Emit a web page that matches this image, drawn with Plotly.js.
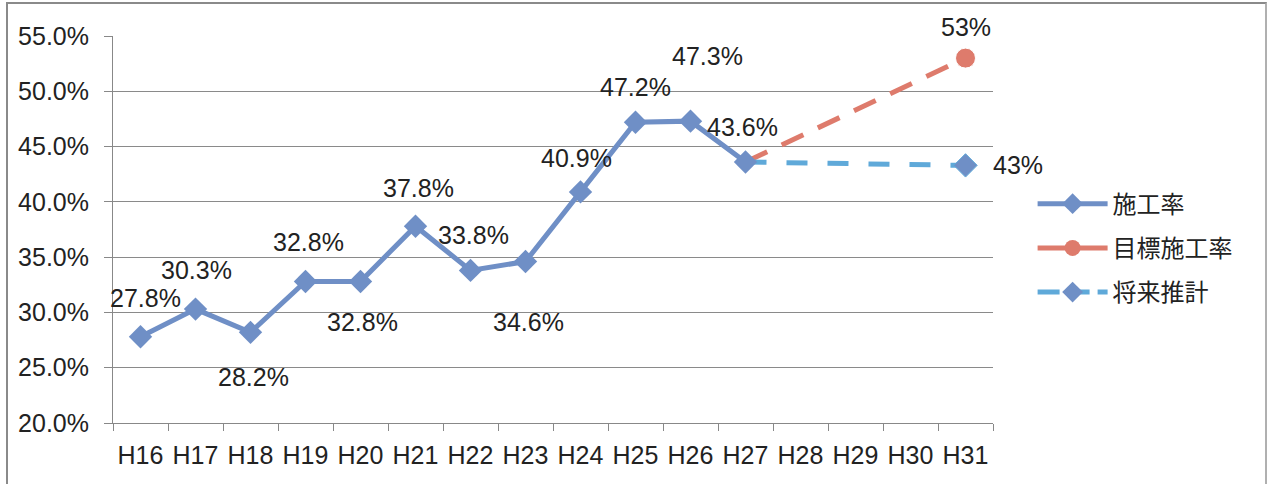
<!DOCTYPE html>
<html>
<head>
<meta charset="utf-8">
<script src="https://cdn.plot.ly/plotly-3.0.1.min.js"></script>
<style>
html,body{margin:0;padding:0;background:#fff;}
#wrap{position:relative;width:1269px;height:484px;}
#frame{position:absolute;left:6px;top:2px;width:1257px;height:490px;border-left:2px solid #8a8a8a;border-top:2px solid #8a8a8a;border-right:2px solid #b0b0b0;pointer-events:none;}
#chart{position:absolute;left:0;top:0;width:1269px;height:484px;}
</style>
</head>
<body>
<div id="wrap"><div id="chart"></div><div id="frame"></div></div>
<script>
// ---- data ----
const years = ['H16','H17','H18','H19','H20','H21','H22','H23','H24','H25','H26','H27','H28','H29','H30','H31'];
const actualYears = ['H16','H17','H18','H19','H20','H21','H22','H23','H24','H25','H26','H27'];
const actualRate = [27.8, 30.3, 28.2, 32.8, 32.8, 37.8, 33.8, 34.6, 40.9, 47.2, 47.3, 43.6];
const targetYears = ['H27','H31'];
const targetRate = [43.6, 53.0];
const forecastYears = ['H27','H31'];
const forecastRate = [43.6, 43.3];
const actualLabels = ['27.8%','30.3%','28.2%','32.8%','32.8%','37.8%','33.8%','34.6%','40.9%','47.2%','47.3%','43.6%'];
const targetLabel = '53%';
const forecastLabel = '43%';
const yTickVals = [20, 25, 30, 35, 40, 45, 50, 55];
const yTickText = ['20.0%','25.0%','30.0%','35.0%','40.0%','45.0%','50.0%','55.0%'];
const seriesNames = ['施工率','目標施工率','将来推計'];

// ---- styles ----
const blue = '#6f8fc6';
const red = '#de7b6c';
const lightBlue = '#5fa9d9';
const labelFont = {family: 'Liberation Sans, Arial, sans-serif', size: 25, color: '#222'};
// label offsets [xshift, yshift] in px
const actualOffsets = [[5,39],[1,39],[3,-45],[3,39],[2,-41],[3,38],[3,35],[3,-60],[-4,34],[0,35],[17,65],[-3,35]];

const traces = [
  // plotted series (legend entries drawn by the legend-only traces below)
  {
    type: 'scatter', mode: 'lines+markers', name: seriesNames[1], showlegend: false,
    x: targetYears, y: targetRate,
    line: {color: red, width: 5, dash: '24px,16px'},
    marker: {symbol: 'circle', size: [0, 20], color: red, opacity: 1},
    hoverinfo: 'skip'
  },
  {
    type: 'scatter', mode: 'lines+markers', name: seriesNames[2], showlegend: false,
    x: forecastYears, y: forecastRate,
    line: {color: lightBlue, width: 5, dash: '21px,20px'},
    marker: {symbol: 'diamond', size: [0, 18], color: blue, opacity: 1},
    hoverinfo: 'skip'
  },
  {
    type: 'scatter', mode: 'lines+markers', name: seriesNames[0], showlegend: false,
    x: actualYears, y: actualRate,
    line: {color: blue, width: 5},
    marker: {symbol: 'diamond', size: 18, color: blue},
    hoverinfo: 'skip'
  },
  // legend entries
  {
    type: 'scatter', mode: 'lines+markers', name: seriesNames[0], x: [null], y: [null],
    line: {color: blue, width: 5}, marker: {symbol: 'diamond', size: 16, color: blue},
    legendgroup: 'a'
  },
  {
    type: 'scatter', mode: 'lines+markers', name: seriesNames[1], x: [null], y: [null],
    line: {color: red, width: 5}, marker: {symbol: 'circle', size: 18, color: red},
    legendgroup: 'b'
  },
  {
    type: 'scatter', mode: 'lines+markers', name: seriesNames[2], x: [null], y: [null],
    line: {color: lightBlue, width: 5, dash: '22px,8px'}, marker: {symbol: 'diamond', size: 16, color: blue},
    legendgroup: 'c'
  }
];

const annotations = actualYears.map((yr, i) => ({
  x: yr, y: actualRate[i], xref: 'x', yref: 'y',
  text: actualLabels[i], showarrow: false,
  xshift: actualOffsets[i][0], yshift: actualOffsets[i][1],
  font: labelFont
}));
annotations.push({x: targetYears[1], y: targetRate[1], xref: 'x', yref: 'y', text: targetLabel, showarrow: false, xshift: 0, yshift: 31, font: labelFont});
annotations.push({x: forecastYears[1], y: forecastRate[1], xref: 'x', yref: 'y', text: forecastLabel, showarrow: false, xshift: 52, yshift: 0, font: labelFont});

const layout = {
  width: 1269, height: 484,
  margin: {l: 113, r: 276, t: 36, b: 61, pad: 0},
  paper_bgcolor: 'rgba(0,0,0,0)', plot_bgcolor: '#fff',
  showlegend: true,
  legend: {
    x: 1.045, y: 0.452, xanchor: 'left', yanchor: 'middle',
    font: {family: 'Noto Sans CJK JP, sans-serif', size: 24, color: '#222'},
    itemwidth: 70,
    traceorder: 'grouped', tracegroupgap: 10,
    bgcolor: 'rgba(0,0,0,0)'
  },
  xaxis: {
    type: 'category', categoryorder: 'array', categoryarray: years,
    range: [-0.5, years.length - 0.5],
    tickson: 'boundaries', ticks: 'outside', ticklen: 7, tickcolor: '#888', tickwidth: 1,
    ticklabelstandoff: 10,
    showline: true, linecolor: '#888', linewidth: 1,
    showgrid: false, zeroline: false,
    tickfont: {family: 'Liberation Sans, Arial, sans-serif', size: 25, color: '#222'}
  },
  yaxis: {
    range: [20, 55], tickmode: 'array', tickvals: yTickVals, ticktext: yTickText,
    ticks: 'outside', ticklen: 8, tickcolor: '#888', tickwidth: 1,
    ticklabelstandoff: 10,
    showline: true, linecolor: '#888', linewidth: 1,
    showgrid: true, gridcolor: '#8a8a8a', gridwidth: 1, zeroline: false,
    tickfont: {family: 'Liberation Sans, Arial, sans-serif', size: 25, color: '#222'}
  },
  annotations: annotations
};

Plotly.newPlot('chart', traces, layout, {displayModeBar: false, staticPlot: true});
</script>
</body>
</html>
